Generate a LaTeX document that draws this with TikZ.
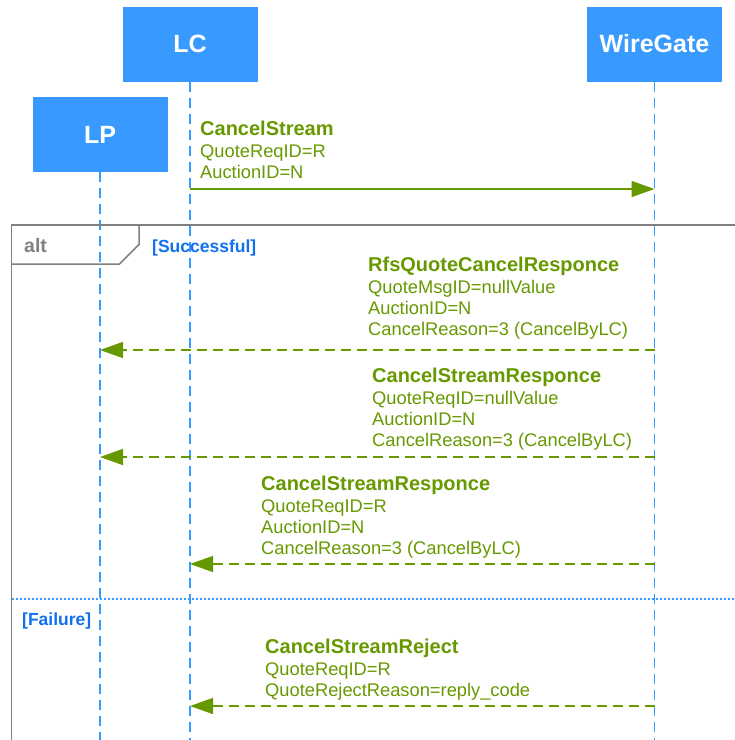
\documentclass[tikz,border=0pt]{standalone}
\usepackage{fontspec}
\setmainfont{Liberation Sans}
\usetikzlibrary{arrows.meta}

\definecolor{boxblue}{RGB}{56,154,255}
\definecolor{msggreen}{RGB}{102,153,0}
\definecolor{framegray}{RGB}{128,128,128}
\definecolor{guardblue}{RGB}{16,112,240}

\tikzset{
  actor/.style={fill=boxblue, text=white, minimum width=135pt, minimum height=75pt,
    inner sep=0pt, font=\bfseries\fontsize{25}{29}\selectfont},
  life/.style={boxblue, line width=1.5pt, dash pattern=on 10pt off 6pt},
  msg/.style={msggreen, line width=1.5pt, -{Triangle[length=23pt,width=16pt]}},
  reply/.style={msg, dash pattern=on 10pt off 6pt},
  msgtitle/.style={msggreen, anchor=base west, inner sep=0pt, font=\bfseries\fontsize{20}{22}\selectfont},
  % base of a multi-line node is its last line
  msgtext/.style={msggreen, anchor=base west, inner sep=0pt, align=left, font=\fontsize{18.3}{21}\selectfont},
  frame/.style={framegray, line width=1.5pt},
  guard/.style={guardblue, anchor=base west, inner sep=0pt, font=\bfseries\fontsize{17.5}{21}\selectfont},
}

\begin{document}
\begin{tikzpicture}[x=1pt, y=-1pt]
    \useasboundingbox (0,0) rectangle (735,740);

    % participants
    \node[actor] (lc) at (190,44)    {LC};
    \node[actor] (wg) at (654.5,44)  {WireGate};
    \node[actor] (lp) at (100,134.5) {LP};

    % lifelines
    \foreach \p in {lp,lc,wg}
    \draw[life] (\p.south) -- (\p.south |- 0,740);

    % alt frame
    \draw[frame] (735,225) -- (11.5,225) -- (11.5,740);
    \draw[frame] (11.5,264) -- (119.5,264) -- (139,244.5) -- (139,225);
    \node[framegray, anchor=base west, inner sep=0pt, font=\bfseries\fontsize{19.5}{21}\selectfont]
        (alt) at (24,252) {alt};
    \node[guard] (ok) at (152,252) {[Successful]};
    \draw[boxblue, line width=1.2pt, dash pattern=on 2pt off 2pt] (11.5,599) -- (735,599);
    \node[guard] (fail) at (22,625) {[Failure]};

    % CancelStream
    \node[msgtitle] (m1) at (200,135) {CancelStream};
    \node[msgtext]  (m1t) at (200,178) {QuoteReqID=R\\AuctionID=N};
    \draw[msg] (lc |- 0,189) -- (wg |- 0,189);

    % RfsQuoteCancelResponce
    \node[msgtitle] (m2) at (368,271) {RfsQuoteCancelResponce};
    \node[msgtext]  (m2t) at (368,335) {QuoteMsgID=nullValue\\AuctionID=N\\CancelReason=3 (CancelByLC)};
    \draw[reply] (wg |- 0,350) -- (lp |- 0,350);

    % CancelStreamResponce to LP
    \node[msgtitle] (m3) at (372,382) {CancelStreamResponce};
    \node[msgtext]  (m3t) at (372,446) {QuoteReqID=nullValue\\AuctionID=N\\CancelReason=3 (CancelByLC)};
    \draw[reply] (wg |- 0,457) -- (lp |- 0,457);

    % CancelStreamResponce to LC
    \node[msgtitle] (m4) at (261,490) {CancelStreamResponce};
    \node[msgtext]  (m4t) at (261,554) {QuoteReqID=R\\AuctionID=N\\CancelReason=3 (CancelByLC)};
    \draw[reply] (wg |- 0,564) -- (lc |- 0,564);

    % CancelStreamReject
    \node[msgtitle] (m5) at (265,653) {CancelStreamReject};
    \node[msgtext]  (m5t) at (265,696) {QuoteReqID=R\\QuoteRejectReason=reply\_code};
    \draw[reply] (wg |- 0,706) -- (lc |- 0,706);

\end{tikzpicture}
\end{document}
